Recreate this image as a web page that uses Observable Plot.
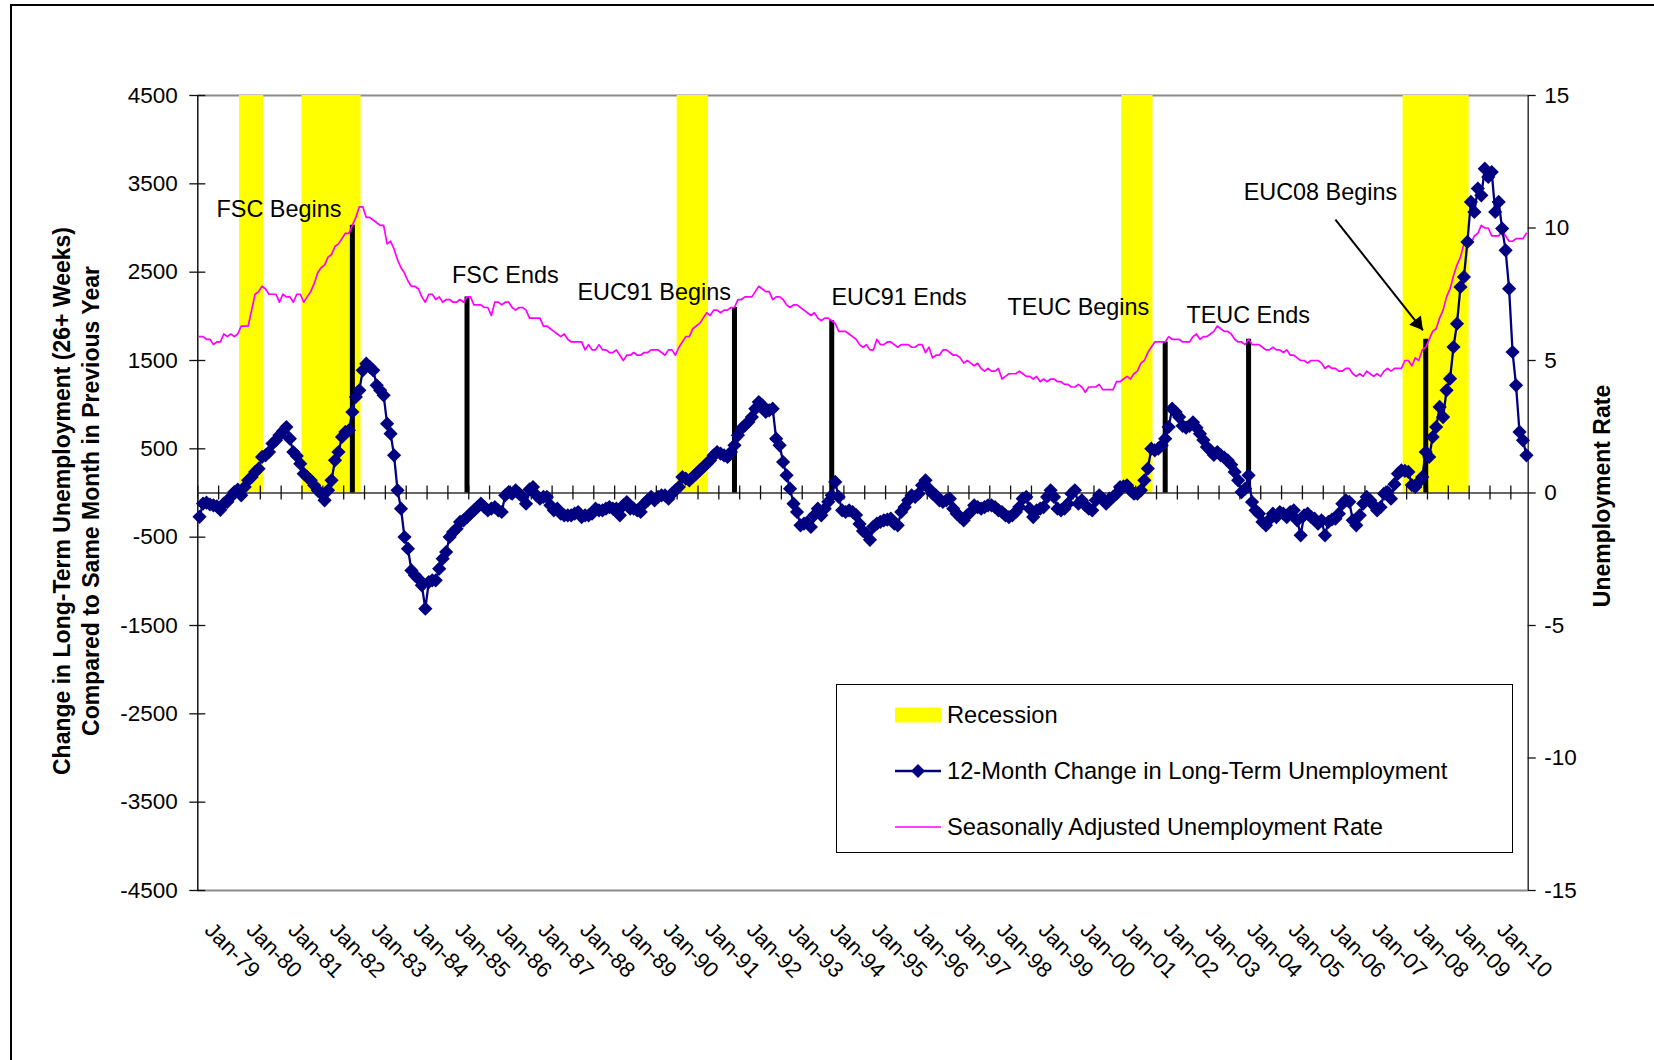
<!DOCTYPE html>
<html>
<head>
<meta charset="utf-8">
<script src="https://cdn.jsdelivr.net/npm/d3@7"></script>
<script src="https://cdn.jsdelivr.net/npm/@observablehq/plot@0.6"></script>
<style>
  html, body { margin: 0; padding: 0; background: #fff; }
  #wrap { position: relative; width: 1654px; height: 1060px; overflow: hidden;
          font-family: "Liberation Sans", Arial, sans-serif; }
  #wrap svg { display: block; position: absolute; left: 0; top: 0; }
  #border { position: absolute; left: 10px; top: 4px; width: 1800px; height: 1200px;
            border-left: 2px solid #000; border-top: 2px solid #000; pointer-events: none; }
  #legend { position: absolute; left: 836px; top: 684px; width: 677px; height: 169px;
            border: 1px solid #000; box-sizing: border-box; background: #fff; }
  #legend .row { position: absolute; left: 0; height: 30px; width: 100%; }
  #legend .sw { position: absolute; left: 57px; top: 0; }
  #legend .lbl { position: absolute; left: 110px; top: 0; line-height: 30px; font-size: 23.7px; color: #000; white-space: nowrap; }
</style>
</head>
<body>
<div id="wrap"></div>
<script>
// ---------------- DATA ----------------
// Months: Jan 1979 ... Nov 2010 (one value per month)
const firstYear = 1979;

// 12-month change in long-term unemployment (thousands)
const longTermChange = [
  -270,-120,-110,-130,-140,-150,-190,-120,-100,-45,10,38,          // 1979
  -26,68,143,181,238,275,408,426,464,559,596,653,                  // 1980
  700,747,615,464,420,332,219,181,143,87,30,-8,                    // 1981
  -83,30,143,370,464,634,691,710,917,1087,1162,1389,               // 1982
  1464,1427,1389,1219,1162,1106,785,672,426,30,-177,-498,          // 1983
  -630,-876,-932,-970,-1045,-1310,-1008,-989,-989,-857,-743,-668,  // 1984
  -498,-442,-404,-328,-309,-272,-234,-196,-159,-121,-159,-196,     // 1985
  -177,-159,-196,-215,-26,11,-8,30,-8,-45,-121,40,                 // 1986
  68,-26,-64,-45,-45,-140,-196,-177,-234,-253,-253,-253,           // 1987
  -234,-215,-272,-253,-253,-234,-177,-196,-196,-177,-159,-177,     // 1988
  -177,-253,-140,-102,-177,-177,-196,-215,-121,-83,-45,-83,        // 1989
  -45,-26,-26,-64,-8,30,68,181,162,143,181,219,                    // 1990
  257,294,332,370,426,464,445,426,408,464,540,653,                 // 1991
  728,766,804,860,955,1030,993,917,936,955,615,540,                // 1992
  351,200,49,-121,-215,-366,-347,-330,-385,-250,-177,-253,         // 1993
  -177,-100,-26,125,-45,-196,-215,-196,-215,-250,-350,-430,        // 1994
  -460,-530,-380,-347,-328,-309,-302,-290,-347,-366,-215,-159,     // 1995
  -83,-26,-45,-8,87,143,49,-8,-26,-83,-102,-83,                    // 1996
  -64,-177,-234,-272,-309,-253,-215,-140,-159,-177,-159,-140,      // 1997
  -140,-159,-196,-215,-253,-272,-253,-215,-159,-64,-45,-177,       // 1998
  -272,-196,-177,-159,-45,30,-45,-177,-196,-177,-121,-8,           // 1999
  30,-121,-83,-140,-177,-196,-83,-26,-64,-121,-64,-45,             // 2000
  -8,68,75,87,30,-8,-8,30,143,276,502,483,                         // 2001
  502,540,615,747,955,917,860,760,740,760,800,740,                 // 2002
  672,600,520,483,430,464,426,400,370,320,238,143,                 // 2003
  11,49,200,-102,-196,-234,-328,-366,-300,-234,-272,-215,          // 2004
  -234,-272,-215,-196,-309,-479,-253,-234,-272,-291,-347,-309,     // 2005
  -479,-328,-300,-291,-234,-121,-83,-100,-309,-366,-253,-120,      // 2006
  -45,-83,-140,-196,-160,-8,11,-64,100,219,257,250,                // 2007
  238,90,68,125,181,464,408,634,747,974,860,1162,                  // 2008
  1294,1653,1917,2332,2446,2842,3295,3181,3446,3370,3672,3578,     // 2009
  3634,3181,3295,2993,2747,2313,1596,1219,691,596,426              // 2010
];

// Seasonally adjusted unemployment rate (%)
const unemploymentRate = [
  5.9,5.9,5.8,5.8,5.6,5.7,5.7,6.0,5.9,6.0,5.9,6.0,
  6.3,6.3,6.3,6.9,7.5,7.6,7.8,7.7,7.5,7.5,7.5,7.2,
  7.5,7.4,7.4,7.2,7.5,7.5,7.2,7.4,7.6,7.9,8.3,8.5,
  8.6,8.9,9.0,9.3,9.4,9.6,9.8,9.8,10.1,10.4,10.8,10.8,
  10.4,10.4,10.3,10.2,10.1,10.1,9.4,9.5,9.2,8.8,8.5,8.3,
  8.0,7.8,7.8,7.7,7.4,7.2,7.5,7.5,7.3,7.4,7.2,7.3,
  7.3,7.2,7.2,7.3,7.2,7.4,7.4,7.1,7.1,7.1,7.0,7.0,
  6.7,7.2,7.2,7.1,7.2,7.2,7.0,6.9,7.0,7.0,6.9,6.6,
  6.6,6.6,6.6,6.3,6.3,6.2,6.1,6.0,5.9,6.0,5.8,5.7,
  5.7,5.7,5.7,5.4,5.6,5.4,5.4,5.6,5.4,5.4,5.3,5.3,
  5.4,5.2,5.0,5.2,5.2,5.3,5.2,5.2,5.3,5.3,5.4,5.4,
  5.4,5.3,5.2,5.4,5.4,5.2,5.5,5.7,5.9,5.9,6.2,6.3,
  6.4,6.6,6.8,6.7,6.9,6.9,6.8,6.9,6.9,7.0,7.0,7.3,
  7.3,7.4,7.4,7.4,7.6,7.8,7.7,7.6,7.6,7.3,7.4,7.4,
  7.3,7.1,7.0,7.1,7.1,7.0,6.9,6.8,6.7,6.8,6.6,6.5,
  6.6,6.6,6.5,6.4,6.1,6.1,6.1,6.0,5.9,5.8,5.6,5.5,
  5.6,5.4,5.4,5.8,5.6,5.6,5.7,5.7,5.6,5.5,5.6,5.6,
  5.6,5.5,5.5,5.6,5.6,5.3,5.5,5.1,5.2,5.2,5.4,5.4,
  5.3,5.2,5.2,5.1,4.9,5.0,4.9,4.8,4.9,4.7,4.6,4.7,
  4.6,4.6,4.7,4.3,4.4,4.5,4.5,4.5,4.6,4.5,4.4,4.4,
  4.3,4.4,4.2,4.3,4.2,4.3,4.3,4.2,4.2,4.1,4.1,4.0,
  4.0,4.1,4.0,3.8,4.0,4.0,4.0,4.1,3.9,3.9,3.9,3.9,
  4.2,4.2,4.3,4.4,4.3,4.5,4.6,4.9,5.0,5.3,5.5,5.7,
  5.7,5.7,5.7,5.9,5.8,5.8,5.8,5.7,5.7,5.7,5.9,6.0,
  5.8,5.9,5.9,6.0,6.1,6.3,6.2,6.1,6.1,6.0,5.8,5.7,
  5.7,5.6,5.8,5.6,5.6,5.6,5.5,5.4,5.4,5.5,5.4,5.4,
  5.3,5.4,5.2,5.2,5.1,5.0,5.0,4.9,5.0,5.0,5.0,4.9,
  4.7,4.8,4.7,4.7,4.6,4.6,4.7,4.7,4.5,4.4,4.5,4.4,
  4.6,4.5,4.4,4.5,4.4,4.6,4.7,4.6,4.7,4.7,4.7,5.0,
  5.0,4.8,5.1,5.0,5.4,5.5,5.8,6.1,6.2,6.6,6.9,7.4,
  7.7,8.2,8.6,8.9,9.4,9.5,9.4,9.7,9.8,10.1,10.0,10.0,
  9.7,9.7,9.7,9.9,9.7,9.5,9.5,9.6,9.6,9.6,9.8
];

// Recessions (first and last month, inclusive); bar drawn to top of rate axis
const recessionStart = ["1980-01", "1981-07", "1990-07", "2001-03", "2007-12"];
const recessionEnd   = ["1980-07", "1982-11", "1991-03", "2001-11", "2009-06"];
const recessionBarRate = 15;

// Program events (black bars, height on the rate axis)
const programLabels = ["FSC Begins", "FSC Ends", "EUC91 Begins", "EUC91 Ends", "TEUC Begins", "TEUC Ends", "EUC08 Begins"];
const programMonths = ["1982-09", "1985-06", "1991-11", "1994-03", "2002-03", "2004-03", "2008-06"];
const programBarRates = [10.1, 7.4, 7.0, 6.5, 5.7, 5.8, 5.8];
// label anchors (month index from Jan-79, left-axis value)
const labelMonthPos = [5.4, 73.2, 109.3, 182.4, 233.1, 284.6, 301.1];
const labelValuePos = [3125, 2377, 2182, 2133, 2012, 1929, 3314];
// arrow for "EUC08 Begins" (month index, left-axis value)
const arrowFrom = [327.5, 3095];
const arrowTo   = [352.7, 1842];

// Axes
const leftTicks = [-4500, -3500, -2500, -1500, -500, 500, 1500, 2500, 3500, 4500];
const rightTicks = [-15, -10, -5, 0, 5, 10, 15];
const xTickLabels = ["Jan-79","Jan-80","Jan-81","Jan-82","Jan-83","Jan-84","Jan-85","Jan-86","Jan-87","Jan-88",
  "Jan-89","Jan-90","Jan-91","Jan-92","Jan-93","Jan-94","Jan-95","Jan-96","Jan-97","Jan-98","Jan-99","Jan-00",
  "Jan-01","Jan-02","Jan-03","Jan-04","Jan-05","Jan-06","Jan-07","Jan-08","Jan-09","Jan-10"];
const leftTitle = "Change in Long-Term Unemployment (26+ Weeks)\nCompared to Same Month in Previous Year";
const rightTitle = "Unemployment Rate";
const legendLabels = ["Recession", "12-Month Change in Long-Term Unemployment", "Seasonally Adjusted Unemployment Rate"];

// ---------------- BUILD ----------------
const RATE = 300;               // secondary axis: 15% <-> 4500
const N = longTermChange.length; // number of monthly categories
const monthIndex = s => { const [y, m] = s.split("-").map(Number); return (y - firstYear) * 12 + (m - 1); };
const rows = longTermChange.map((v, i) => ({i, change: v, rate: unemploymentRate[i]}));
const recessions = recessionStart.map((s, k) => ({s: monthIndex(s), e: monthIndex(recessionEnd[k]) + 1}));
const programs = programMonths.map((m, k) => ({m: monthIndex(m), r: programBarRates[k], label: programLabels[k], lx: labelMonthPos[k], ly: labelValuePos[k]}));
const xTicks = d3.range(0, N, 6);
const font = "'Liberation Sans', Arial, sans-serif";

// arrow head geometry in pixels (style)
const headR = 5.5, headAngle = 142;
const tipOff = Math.sqrt(Math.PI * headR * headR / (Math.sqrt(3) * 3)) * 2;
const ang = headAngle * Math.PI / 180;

const chart = Plot.plot({
  width: 1654, height: 1060,
  marginLeft: 197.3, marginRight: 126.3, marginTop: 95, marginBottom: 170,
  x: {type: "linear", domain: [0, N], axis: null},
  y: {type: "linear", domain: [-4500, 4500], axis: null},
  style: {fontFamily: font, fontSize: "22.5px", background: "transparent", color: "#000", overflow: "visible"},
  marks: [
    // plot-area frame top/bottom
    Plot.ruleY([4500, -4500], {stroke: "#8a8a8a", strokeWidth: 2}),
    // recession bands
    Plot.rect(recessions, {x1: d => d.s, x2: d => d.e, y1: () => 0, y2: () => recessionBarRate * RATE, fill: "#ffff00"}),
    // axes
    Plot.ruleX([0], {stroke: "#111", strokeWidth: 1.5}),
    Plot.ruleX([N], {stroke: "#333", strokeWidth: 1.5}),
    Plot.ruleY([0], {stroke: "#333", strokeWidth: 1.5}),
    // left ticks (cross)
    Plot.ruleY(leftTicks, {y: d => d, x1: () => 0, x2: () => 0, insetLeft: -8, insetRight: -8, stroke: "#111", strokeWidth: 1.3}),
    // right ticks (outside)
    Plot.ruleY(rightTicks, {y: d => d * RATE, x1: () => N, x2: () => N, insetLeft: 0, insetRight: -8, stroke: "#111", strokeWidth: 1.3}),
    // category ticks on zero line (cross)
    Plot.ruleX(xTicks, {x: d => d, y1: () => 0, y2: () => 0, insetTop: -7, insetBottom: -7, stroke: "#111", strokeWidth: 1.3}),
    // tick labels
    Plot.text(leftTicks, {y: d => d, text: d => String(d), frameAnchor: "left", dx: -20, textAnchor: "end", fontSize: 22.5}),
    Plot.text(rightTicks, {y: d => d * RATE, text: d => String(d), frameAnchor: "right", dx: 16, textAnchor: "start", fontSize: 22.5}),
    Plot.text(xTickLabels, {x: (d, k) => k * 12 + 0.5, text: d => d, frameAnchor: "bottom", rotate: 45, textAnchor: "start", lineAnchor: "bottom", dx: 4, dy: 41, fontSize: 22}),
    // axis titles
    Plot.text([leftTitle], {text: d => d, frameAnchor: "left", textAnchor: "middle", lineAnchor: "middle", rotate: -90, dx: -122.5, dy: 8, fontWeight: "bold", fontSize: 23, lineHeight: 1.28}),
    Plot.text([rightTitle], {text: d => d, frameAnchor: "right", textAnchor: "middle", lineAnchor: "middle", rotate: -90, dx: 74, dy: 3, fontWeight: "bold", fontSize: 23}),
    // program bars
    Plot.ruleX(programs, {x: d => d.m + 0.5, y1: () => 0, y2: d => d.r * RATE, stroke: "#000", strokeWidth: 5}),
    // unemployment rate (secondary axis)
    Plot.line(rows, {x: d => d.i + 0.5, y: d => d.rate * RATE, stroke: "#ff00ff", strokeWidth: 1.7}),
    // long-term unemployment change
    Plot.line(rows, {x: d => d.i + 0.5, y: "change", stroke: "#000080", strokeWidth: 2.3}),
    Plot.dot(rows, {x: d => d.i + 0.5, y: "change", symbol: "diamond2", r: 6.4, fill: "#000080", stroke: null}),
    // annotations
    Plot.text(programs, {x: d => d.lx, y: d => d.ly, text: "label", textAnchor: "start", lineAnchor: "bottom", fontSize: 23.4}),
    Plot.link([0], {x1: () => arrowFrom[0], y1: () => arrowFrom[1], x2: () => arrowTo[0], y2: () => arrowTo[1], stroke: "#000", strokeWidth: 2}),
    Plot.dot([0], {x: () => arrowTo[0], y: () => arrowTo[1], symbol: "triangle", r: headR, rotate: headAngle, fill: "#000", stroke: null,
                   dx: -tipOff * Math.sin(ang), dy: tipOff * Math.cos(ang)})
  ]
});

const wrap = document.getElementById("wrap");
wrap.appendChild(chart);

// legend
const legend = document.createElement("div");
legend.id = "legend";
const rowTops = [15, 71, 127];
const swatches = [
  `<svg width="48" height="30"><rect x="1" y="7.5" width="46" height="15" fill="#ffff00"/></svg>`,
  `<svg width="48" height="30"><line x1="1" y1="15" x2="47" y2="15" stroke="#000080" stroke-width="2.3"/><path d="M24,8L31,15L24,22L17,15Z" fill="#000080"/></svg>`,
  `<svg width="48" height="30"><line x1="1" y1="15" x2="47" y2="15" stroke="#ff00ff" stroke-width="1.7"/></svg>`
];
legendLabels.forEach((t, k) => {
  const r = document.createElement("div");
  r.className = "row";
  r.style.top = rowTops[k] + "px";
  r.innerHTML = `<div class="sw">${swatches[k]}</div><div class="lbl"></div>`;
  r.querySelector(".lbl").textContent = t;
  legend.appendChild(r);
});
wrap.appendChild(legend);

const border = document.createElement("div");
border.id = "border";
wrap.appendChild(border);
</script>
</body>
</html>
